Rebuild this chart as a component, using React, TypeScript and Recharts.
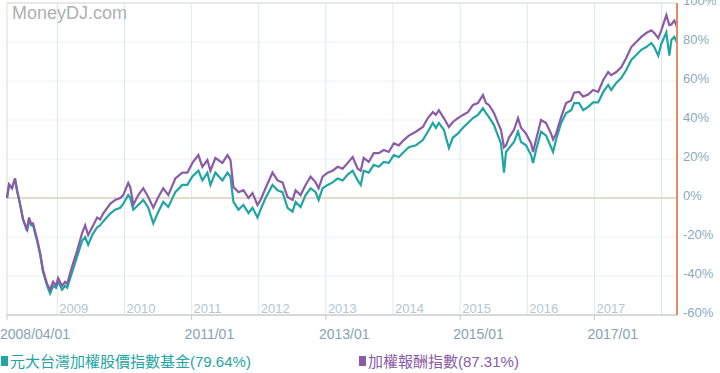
import { CartesianGrid, Line, LineChart, ReferenceArea, ReferenceLine, XAxis, YAxis } from "recharts";

// time in decimal years
const years = [
  2008.25, 2008.28, 2008.325, 2008.369, 2008.399, 2008.444, 2008.489, 2008.549, 2008.578, 2008.608,
  2008.638, 2008.698, 2008.743, 2008.787, 2008.847, 2008.892, 2008.937, 2008.981, 2009.011, 2009.071,
  2009.116, 2009.146, 2009.22, 2009.295, 2009.369, 2009.414, 2009.459, 2009.519, 2009.593, 2009.638,
  2009.683, 2009.787, 2009.862, 2009.937, 2009.981, 2010.056, 2010.086, 2010.131, 2010.205, 2010.28,
  2010.354, 2010.429, 2010.504, 2010.578, 2010.653, 2010.757, 2010.862, 2010.937, 2011.011, 2011.101,
  2011.16, 2011.235, 2011.28, 2011.354, 2011.459, 2011.534, 2011.578, 2011.623, 2011.698, 2011.772,
  2011.847, 2011.907, 2011.981, 2012.026, 2012.101, 2012.205, 2012.28, 2012.354, 2012.429, 2012.504,
  2012.549, 2012.623, 2012.698, 2012.772, 2012.847, 2012.892, 2012.951, 2013.026, 2013.101, 2013.175,
  2013.25, 2013.325, 2013.399, 2013.474, 2013.519, 2013.563, 2013.638, 2013.713, 2013.787, 2013.862,
  2013.937, 2014.011, 2014.086, 2014.16, 2014.235, 2014.34, 2014.444, 2014.519, 2014.593, 2014.638,
  2014.683, 2014.757, 2014.832, 2014.892, 2014.966, 2015.041, 2015.116, 2015.19, 2015.265, 2015.34,
  2015.384, 2015.429, 2015.504, 2015.563, 2015.608, 2015.653, 2015.683, 2015.728, 2015.802, 2015.862,
  2015.907, 2015.981, 2016.056, 2016.086, 2016.131, 2016.205, 2016.28, 2016.354, 2016.384, 2016.429,
  2016.504, 2016.578, 2016.653, 2016.698, 2016.772, 2016.832, 2016.907, 2016.981, 2017.056, 2017.131,
  2017.205, 2017.25, 2017.325, 2017.399, 2017.474, 2017.549, 2017.623, 2017.698, 2017.772, 2017.847,
  2017.892, 2017.951, 2017.996, 2018.071, 2018.116, 2018.146, 2018.19, 2018.22, 2018.23,
];

// 元大台灣加權股價指數基金 (%)
const fundReturn = [
  0, 7, 5, 10, 4, -3, -11, -17, -11, -14,
  -14, -22, -29, -38, -45, -49, -45, -46, -43, -47,
  -45, -46, -38, -30, -22, -20, -24, -19, -15, -14,
  -12, -8, -6, -5, -3, 1.5, 0, -6, -3.6, -1,
  -5, -13, -7, -2, -4.6, 3, 6.7, 6.7, 11, 14,
  9, 13, 6.7, 13, 9, 13, 11, -2, -6, -3.6,
  -7.7, -5, -10, -6, 0, 6.7, 4, 3, -5, -7,
  -2, -4.6, 1.5, 5, 3, -1, 5, 6.7, 8, 10,
  9, 12, 14, 9, 6.7, 14, 13, 17, 16, 18.5,
  18, 22, 21, 23.6, 26, 27, 29.7, 34, 38.5, 36,
  38.5, 35, 25.6, 31, 33, 36, 38.5, 41, 42.6, 46,
  43.6, 41.5, 37.4, 32, 28, 13, 23.6, 25.6, 28.7, 34,
  28.7, 27, 22, 18, 24.6, 34, 32, 26, 23.6, 30,
  38.5, 43.6, 45, 48.7, 48.7, 45, 46.7, 49, 49, 54.4,
  58, 55.4, 59, 61.5, 65.6, 70.8, 73.3, 76, 77.4, 79.5,
  77.4, 73, 79, 85, 73, 81, 82.6, 80.5, 79.64,
];

// 加權報酬指數 (%)
const indexReturn = [
  0, 7, 5, 10, 4, -3, -11, -16, -10, -13,
  -13, -21, -28, -37, -44, -47, -43, -45, -41, -45,
  -43, -44, -35, -27, -18, -14, -19, -15, -10, -11,
  -8, -3, -1, 0, 1.5, 7.7, 5.6, -3.6, 1.5, 5,
  0.5, -5, 0.5, 5, 1.5, 10, 13, 13, 18, 22,
  16, 19.5, 14, 20.5, 18, 22, 19.5, 5.6, 3, 4,
  0, 2.5, -3.6, -1, 5, 13, 9, 8, 0.5, -1,
  4, 1.5, 6.7, 11, 8, 5, 11, 13, 14, 16,
  15, 18, 21, 15, 14, 20.5, 18.5, 23, 23, 24.6,
  23.6, 28, 27, 29.7, 32, 34, 36.4, 41, 44, 42.6,
  45, 41, 36.4, 39, 41, 42.6, 44, 47.7, 48.7, 52.8,
  48.7, 47.7, 43.6, 38.5, 35, 26, 27, 31, 35, 41,
  36, 33, 28, 23.6, 30, 40, 38.5, 33, 30, 33,
  41.5, 48.7, 50, 54, 54.4, 52, 53, 55.4, 54.4, 60.5,
  64.6, 63, 64.6, 67, 71.8, 77.4, 80, 82.6, 84.6, 86,
  84.6, 82, 86, 93.8, 88.7, 89, 91, 88.7, 87.31,
];

const xTicks = [2008.25, 2011, 2013, 2015, 2017];
const yTicks = [-60, -40, -20, 0, 20, 40, 60, 80, 100];
const yearLines = [2009, 2010, 2011, 2012, 2013, 2014, 2015, 2016, 2017, 2018];
const yearLabels = ["2009", "2010", "2011", "2012", "2013", "2014", "2015", "2016", "2017", ""];

const fundName = "元大台灣加權股價指數基金";
const indexName = "加權報酬指數";

const TEAL = "#1fa6a4";
const PURPLE = "#8a5ba6";
const FONT = "'Liberation Sans', Arial, 'Noto Sans CJK TC', sans-serif";

const data = years.map((t, i) => ({ t, fund: fundReturn[i], index: indexReturn[i] }));

const xLabel = (v: number) => (v === 2008.25 ? "2008/04/01" : `${v}/01`);

const XTick = ({ x, payload }: any) => (
  <text x={x - 7} y={334} dy="0.35em" textAnchor="start" fontSize={14} fill="#86a3b3" fontFamily={FONT}>
    {xLabel(payload.value)}
  </text>
);

const YTick = ({ x, y, payload }: any) => (
  <text x={x} y={y - 3} dy="0.35em" textAnchor="start" fontSize={13} fill="#88abbd" fontFamily={FONT}>
    {`${payload.value}%`}
  </text>
);

export default function App() {
  return (
    <div style={{ position: "absolute", left: 0, top: 0, width: 720, height: 373, background: "#fff", fontFamily: FONT }}>
      <LineChart width={720} height={373} data={data} margin={{ top: 3, right: 0, bottom: 28, left: 7 }}>
        <CartesianGrid vertical={false} stroke="#f0f0f0" />
        <ReferenceArea x1={2008.25} x2={2018.23} y1={-60} y2={100} fill="none" stroke="#d9d9d9" />
        {yearLines.map((yr, i) => (
          <ReferenceLine
            key={yr}
            x={yr}
            stroke="#d5ebf1"
            label={{ value: yearLabels[i], position: "insideBottomLeft", offset: 2, fill: "#b3c8d2", fontSize: 13, fontFamily: FONT }}
          />
        ))}
        <ReferenceLine y={0} stroke="#ddd3bd" strokeWidth={1.5} />
        <XAxis
          type="number"
          dataKey="t"
          domain={[2008.25, 2018.23]}
          ticks={xTicks}
          height={30}
          stroke="#c8c8c8"
          tickSize={5}
          tick={<XTick />}
          interval={0}
        />
        <YAxis
          orientation="right"
          type="number"
          domain={[-60, 100]}
          ticks={yTicks}
          width={43}
          axisLine={{ stroke: "#e58a66", strokeWidth: 2 }}
          tickLine={false}
          tickSize={4}
          tickMargin={2}
          tick={<YTick />}
          interval={0}
        />
        <Line type="linear" dataKey="fund" stroke={TEAL} strokeWidth={2.2} dot={false} isAnimationActive={false} />
        <Line type="linear" dataKey="index" stroke={PURPLE} strokeWidth={2.2} dot={false} isAnimationActive={false} />
      </LineChart>
      <div style={{ position: "absolute", left: 12, top: 3, fontSize: 18, color: "#b0b0b0", pointerEvents: "none" }}>
        MoneyDJ.com
      </div>
      <div style={{ position: "absolute", left: 1, top: 350, fontSize: 15, color: TEAL, whiteSpace: "nowrap", display: "flex", alignItems: "center" }}>
        <span style={{ display: "inline-block", width: 7, height: 10, background: TEAL, marginRight: 2 }} />
        {fundName}(79.64%)
      </div>
      <div style={{ position: "absolute", left: 359, top: 350, fontSize: 15, color: PURPLE, whiteSpace: "nowrap", display: "flex", alignItems: "center" }}>
        <span style={{ display: "inline-block", width: 7, height: 10, background: PURPLE, marginRight: 2 }} />
        {indexName}(87.31%)
      </div>
    </div>
  );
}
